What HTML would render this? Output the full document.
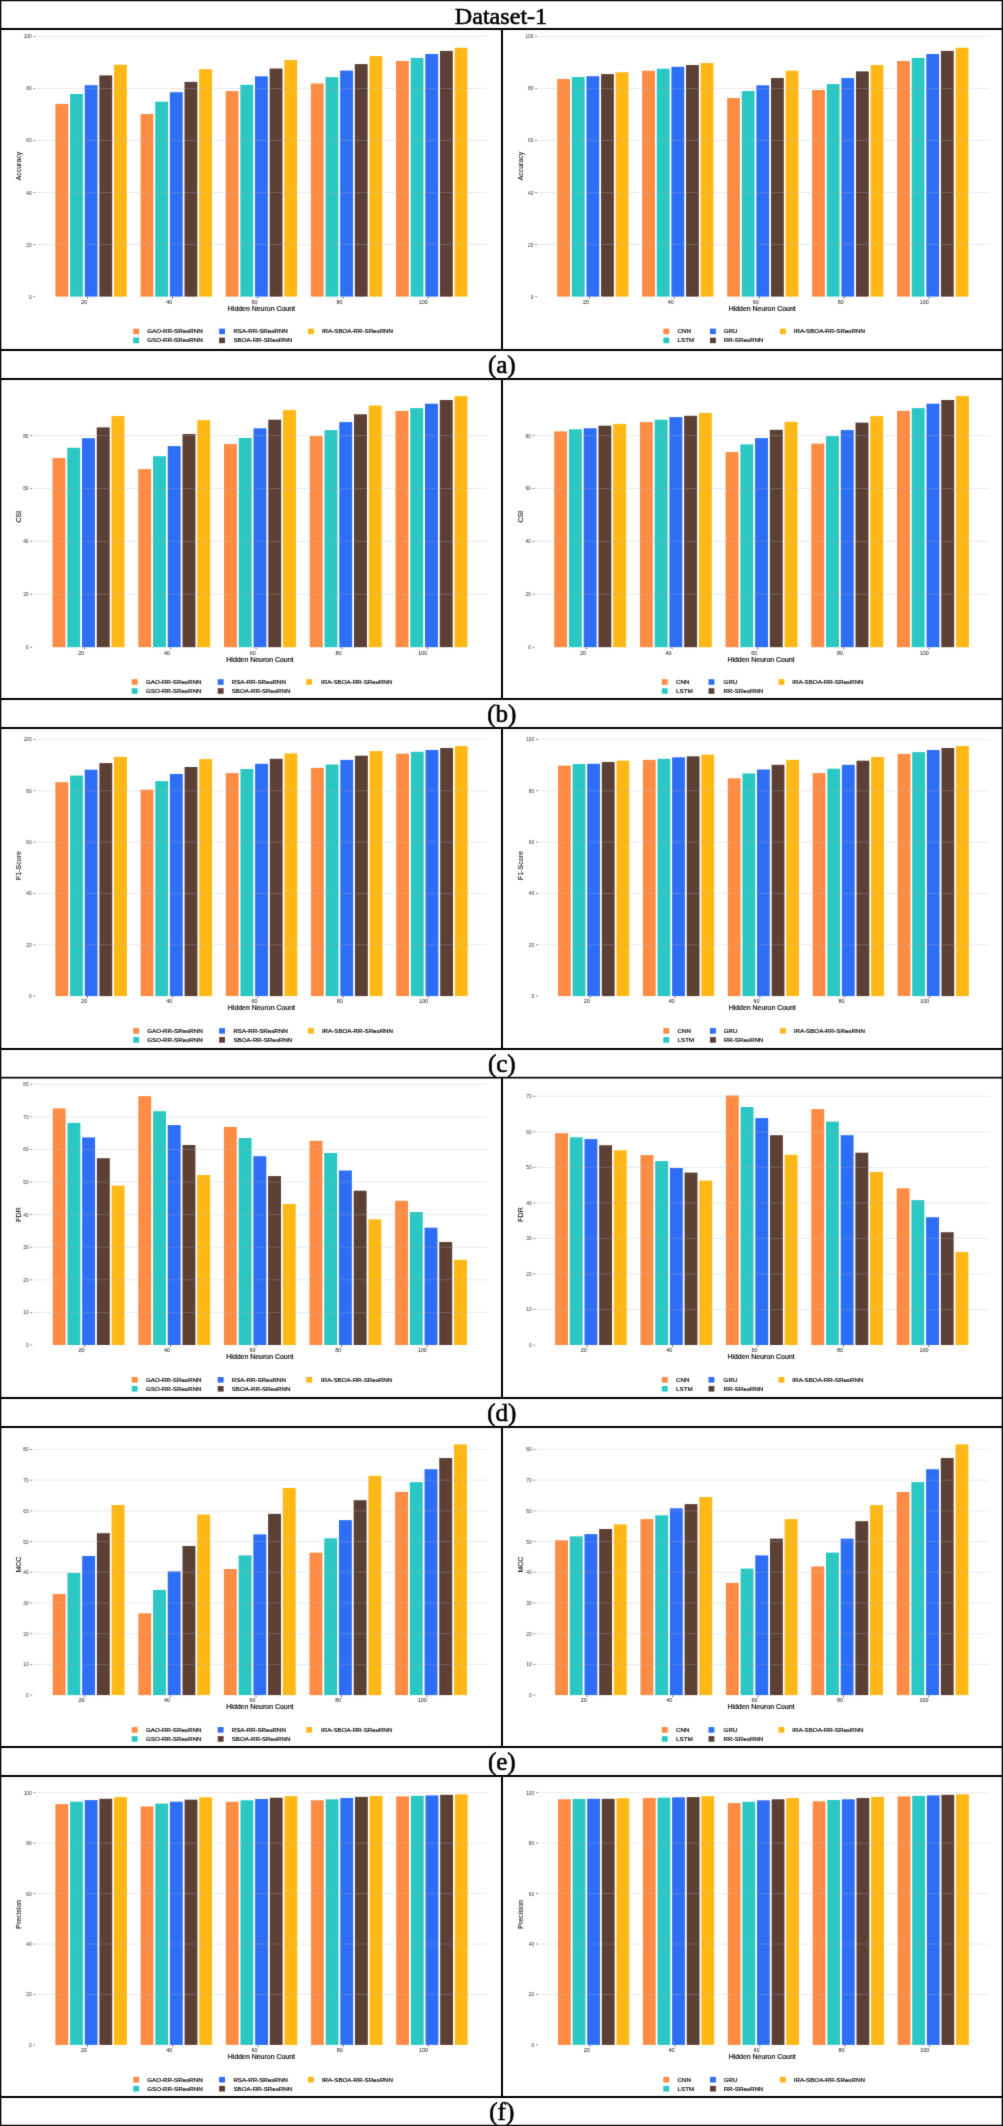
<!DOCTYPE html><html><head><meta charset="utf-8"><title>Dataset-1</title><style>

*{margin:0;padding:0}
html,body{width:1003px;height:2126px;background:#fff;overflow:hidden}
svg{display:block;will-change:transform}
text{font-family:"Liberation Sans",sans-serif;fill:#111;stroke:#111;stroke-width:0.22px}
.yt{font-size:4.8px;text-anchor:end;fill:#333;stroke:none}
.xt{font-size:5.4px;text-anchor:end;stroke:none}
.xl{font-size:6.95px;text-anchor:middle}
.yl{font-size:7px;text-anchor:middle;stroke-width:0.1px}
.lg{font-size:6.2px}
.cap,.ttl{font-family:"Liberation Serif",serif;fill:#000;stroke:#000;stroke-width:0.6px;text-anchor:middle}
.cap{font-size:25px}
.ttl{font-size:24.1px}

</style></head><body>
<svg width="1003" height="2126" viewBox="0 0 1003 2126">
<defs><filter id="bl" x="0" y="0" width="1" height="1"><feConvolveMatrix order="3" kernelMatrix="1 2 1 2 24 2 1 2 1" divisor="36" edgeMode="duplicate"/></filter></defs>
<rect width="1003" height="2126" fill="#fff"/>
<g filter="url(#bl)">
<rect x="55.4" y="103.9" width="12.85" height="192.7" fill="#FF8C44"/>
<rect x="70.05" y="94" width="12.85" height="202.6" fill="#29C7C3"/>
<rect x="84.7" y="85.2" width="12.85" height="211.4" fill="#2D6EF5"/>
<rect x="99.35" y="75.4" width="12.85" height="221.2" fill="#5C4035"/>
<rect x="114" y="64.8" width="12.85" height="231.8" fill="#FFB812"/>
<rect x="140.55" y="114" width="12.85" height="182.6" fill="#FF8C44"/>
<rect x="155.2" y="101.7" width="12.85" height="194.9" fill="#29C7C3"/>
<rect x="169.85" y="92.2" width="12.85" height="204.4" fill="#2D6EF5"/>
<rect x="184.5" y="81.9" width="12.85" height="214.7" fill="#5C4035"/>
<rect x="199.15" y="69.2" width="12.85" height="227.4" fill="#FFB812"/>
<rect x="225.7" y="91.1" width="12.85" height="205.5" fill="#FF8C44"/>
<rect x="240.35" y="84.8" width="12.85" height="211.8" fill="#29C7C3"/>
<rect x="255" y="76.3" width="12.85" height="220.3" fill="#2D6EF5"/>
<rect x="269.65" y="68.5" width="12.85" height="228.1" fill="#5C4035"/>
<rect x="284.3" y="60" width="12.85" height="236.6" fill="#FFB812"/>
<rect x="310.85" y="83.5" width="12.85" height="213.1" fill="#FF8C44"/>
<rect x="325.5" y="77.1" width="12.85" height="219.5" fill="#29C7C3"/>
<rect x="340.15" y="70.6" width="12.85" height="226" fill="#2D6EF5"/>
<rect x="354.8" y="64.1" width="12.85" height="232.5" fill="#5C4035"/>
<rect x="369.45" y="56.1" width="12.85" height="240.5" fill="#FFB812"/>
<rect x="396" y="61" width="12.85" height="235.6" fill="#FF8C44"/>
<rect x="410.65" y="57.9" width="12.85" height="238.7" fill="#29C7C3"/>
<rect x="425.3" y="54" width="12.85" height="242.6" fill="#2D6EF5"/>
<rect x="439.95" y="50.9" width="12.85" height="245.7" fill="#5C4035"/>
<rect x="454.6" y="47.8" width="12.85" height="248.8" fill="#FFB812"/>
<rect x="33.6" y="296.15" width="1.6" height="0.9" fill="#666"/>
<text x="31.7" y="298.6" class="yt">0</text>
<rect x="35.4" y="244.06" width="451.8" height="1" fill="rgba(180,180,180,0.28)"/>
<rect x="33.6" y="244.11" width="1.6" height="0.9" fill="#666"/>
<text x="31.7" y="246.56" class="yt">20</text>
<rect x="35.4" y="192.02" width="451.8" height="1" fill="rgba(180,180,180,0.28)"/>
<rect x="33.6" y="192.07" width="1.6" height="0.9" fill="#666"/>
<text x="31.7" y="194.52" class="yt">40</text>
<rect x="35.4" y="139.98" width="451.8" height="1" fill="rgba(180,180,180,0.28)"/>
<rect x="33.6" y="140.03" width="1.6" height="0.9" fill="#666"/>
<text x="31.7" y="142.48" class="yt">60</text>
<rect x="35.4" y="87.94" width="451.8" height="1" fill="rgba(180,180,180,0.28)"/>
<rect x="33.6" y="87.99" width="1.6" height="0.9" fill="#666"/>
<text x="31.7" y="90.44" class="yt">80</text>
<rect x="35.4" y="35.9" width="451.8" height="1" fill="rgba(180,180,180,0.28)"/>
<rect x="33.6" y="35.95" width="1.6" height="0.9" fill="#666"/>
<text x="31.7" y="38.4" class="yt">100</text>
<rect x="87.05" y="296.8" width="0.9" height="1.8" fill="#555"/>
<text x="87.1" y="303.9" class="xt">20</text>
<rect x="172.2" y="296.8" width="0.9" height="1.8" fill="#555"/>
<text x="172.25" y="303.9" class="xt">40</text>
<rect x="257.35" y="296.8" width="0.9" height="1.8" fill="#555"/>
<text x="257.4" y="303.9" class="xt">60</text>
<rect x="342.5" y="296.8" width="0.9" height="1.8" fill="#555"/>
<text x="342.55" y="303.9" class="xt">80</text>
<rect x="427.65" y="296.8" width="0.9" height="1.8" fill="#555"/>
<text x="427.7" y="303.9" class="xt">100</text>
<text x="261.4" y="310.9" class="xl">Hidden Neuron Count</text>
<text transform="translate(20.6 166.1) rotate(-90)" class="yl">Accuracy</text>
<rect x="133.2" y="328.6" width="5.9" height="5.6" fill="#FF8C44"/>
<text x="147.3" y="333.2" class="lg">GAO-RR-SResRNN</text>
<rect x="133.2" y="337.6" width="5.9" height="5.6" fill="#29C7C3"/>
<text x="147.3" y="342.2" class="lg">GSO-RR-SResRNN</text>
<rect x="219.1" y="328.6" width="5.9" height="5.6" fill="#2D6EF5"/>
<text x="233.4" y="333.2" class="lg">RSA-RR-SResRNN</text>
<rect x="219.1" y="337.6" width="5.9" height="5.6" fill="#5C4035"/>
<text x="233.4" y="342.2" class="lg">SBOA-RR-SResRNN</text>
<rect x="308" y="328.6" width="5.9" height="5.6" fill="#FFB812"/>
<text x="321.9" y="333.2" class="lg">IRA-SBOA-RR-SResRNN</text>
<rect x="557.2" y="79" width="12.82" height="217.6" fill="#FF8C44"/>
<rect x="571.82" y="77" width="12.82" height="219.6" fill="#29C7C3"/>
<rect x="586.44" y="76.2" width="12.82" height="220.4" fill="#2D6EF5"/>
<rect x="601.06" y="74.1" width="12.82" height="222.5" fill="#5C4035"/>
<rect x="615.68" y="72.3" width="12.82" height="224.3" fill="#FFB812"/>
<rect x="642.17" y="70.7" width="12.82" height="225.9" fill="#FF8C44"/>
<rect x="656.79" y="68.7" width="12.82" height="227.9" fill="#29C7C3"/>
<rect x="671.41" y="66.8" width="12.82" height="229.8" fill="#2D6EF5"/>
<rect x="686.03" y="65" width="12.82" height="231.6" fill="#5C4035"/>
<rect x="700.65" y="63" width="12.82" height="233.6" fill="#FFB812"/>
<rect x="727.14" y="98" width="12.82" height="198.6" fill="#FF8C44"/>
<rect x="741.76" y="91" width="12.82" height="205.6" fill="#29C7C3"/>
<rect x="756.38" y="85.3" width="12.82" height="211.3" fill="#2D6EF5"/>
<rect x="771" y="78" width="12.82" height="218.6" fill="#5C4035"/>
<rect x="785.62" y="70.7" width="12.82" height="225.9" fill="#FFB812"/>
<rect x="812.11" y="90" width="12.82" height="206.6" fill="#FF8C44"/>
<rect x="826.73" y="84.1" width="12.82" height="212.5" fill="#29C7C3"/>
<rect x="841.35" y="78.1" width="12.82" height="218.5" fill="#2D6EF5"/>
<rect x="855.97" y="71.4" width="12.82" height="225.2" fill="#5C4035"/>
<rect x="870.59" y="65.1" width="12.82" height="231.5" fill="#FFB812"/>
<rect x="897.08" y="61" width="12.82" height="235.6" fill="#FF8C44"/>
<rect x="911.7" y="57.9" width="12.82" height="238.7" fill="#29C7C3"/>
<rect x="926.32" y="54" width="12.82" height="242.6" fill="#2D6EF5"/>
<rect x="940.94" y="50.9" width="12.82" height="245.7" fill="#5C4035"/>
<rect x="955.56" y="47.8" width="12.82" height="248.8" fill="#FFB812"/>
<rect x="535.3" y="296.15" width="1.6" height="0.9" fill="#666"/>
<text x="533.4" y="298.6" class="yt">0</text>
<rect x="537.1" y="244.06" width="452.1" height="1" fill="rgba(180,180,180,0.28)"/>
<rect x="535.3" y="244.11" width="1.6" height="0.9" fill="#666"/>
<text x="533.4" y="246.56" class="yt">20</text>
<rect x="537.1" y="192.02" width="452.1" height="1" fill="rgba(180,180,180,0.28)"/>
<rect x="535.3" y="192.07" width="1.6" height="0.9" fill="#666"/>
<text x="533.4" y="194.52" class="yt">40</text>
<rect x="537.1" y="139.98" width="452.1" height="1" fill="rgba(180,180,180,0.28)"/>
<rect x="535.3" y="140.03" width="1.6" height="0.9" fill="#666"/>
<text x="533.4" y="142.48" class="yt">60</text>
<rect x="537.1" y="87.94" width="452.1" height="1" fill="rgba(180,180,180,0.28)"/>
<rect x="535.3" y="87.99" width="1.6" height="0.9" fill="#666"/>
<text x="533.4" y="90.44" class="yt">80</text>
<rect x="537.1" y="35.9" width="452.1" height="1" fill="rgba(180,180,180,0.28)"/>
<rect x="535.3" y="35.95" width="1.6" height="0.9" fill="#666"/>
<text x="533.4" y="38.4" class="yt">100</text>
<rect x="588.85" y="296.8" width="0.9" height="1.8" fill="#555"/>
<text x="588.9" y="303.9" class="xt">20</text>
<rect x="673.82" y="296.8" width="0.9" height="1.8" fill="#555"/>
<text x="673.87" y="303.9" class="xt">40</text>
<rect x="758.79" y="296.8" width="0.9" height="1.8" fill="#555"/>
<text x="758.84" y="303.9" class="xt">60</text>
<rect x="843.76" y="296.8" width="0.9" height="1.8" fill="#555"/>
<text x="843.81" y="303.9" class="xt">80</text>
<rect x="928.73" y="296.8" width="0.9" height="1.8" fill="#555"/>
<text x="928.78" y="303.9" class="xt">100</text>
<text x="762.2" y="310.9" class="xl">Hidden Neuron Count</text>
<text transform="translate(522.6 166.1) rotate(-90)" class="yl">Accuracy</text>
<rect x="663.3" y="328.6" width="5.9" height="5.6" fill="#FF8C44"/>
<text x="677.6" y="333.2" class="lg">CNN</text>
<rect x="663.3" y="337.6" width="5.9" height="5.6" fill="#29C7C3"/>
<text x="677.6" y="342.2" class="lg">LSTM</text>
<rect x="710" y="328.6" width="5.9" height="5.6" fill="#2D6EF5"/>
<text x="723.8" y="333.2" class="lg">GRU</text>
<rect x="710" y="337.6" width="5.9" height="5.6" fill="#5C4035"/>
<text x="723.8" y="342.2" class="lg">RR-SResRNN</text>
<rect x="780" y="328.6" width="5.9" height="5.6" fill="#FFB812"/>
<text x="793.7" y="333.2" class="lg">IRA-SBOA-RR-SResRNN</text>
<rect x="52.5" y="458.1" width="12.94" height="189.1" fill="#FF8C44"/>
<rect x="67.25" y="447.8" width="12.94" height="199.4" fill="#29C7C3"/>
<rect x="82.01" y="438.2" width="12.94" height="209" fill="#2D6EF5"/>
<rect x="96.76" y="427.4" width="12.94" height="219.8" fill="#5C4035"/>
<rect x="111.51" y="416" width="12.94" height="231.2" fill="#FFB812"/>
<rect x="138.25" y="469.1" width="12.94" height="178.1" fill="#FF8C44"/>
<rect x="153" y="456.2" width="12.94" height="191" fill="#29C7C3"/>
<rect x="167.76" y="446.1" width="12.94" height="201.1" fill="#2D6EF5"/>
<rect x="182.51" y="434" width="12.94" height="213.2" fill="#5C4035"/>
<rect x="197.26" y="420.2" width="12.94" height="227" fill="#FFB812"/>
<rect x="224" y="444.1" width="12.94" height="203.1" fill="#FF8C44"/>
<rect x="238.75" y="437.9" width="12.94" height="209.3" fill="#29C7C3"/>
<rect x="253.51" y="428.3" width="12.94" height="218.9" fill="#2D6EF5"/>
<rect x="268.26" y="419.7" width="12.94" height="227.5" fill="#5C4035"/>
<rect x="283.01" y="410.1" width="12.94" height="237.1" fill="#FFB812"/>
<rect x="309.75" y="436.1" width="12.94" height="211.1" fill="#FF8C44"/>
<rect x="324.5" y="430.1" width="12.94" height="217.1" fill="#29C7C3"/>
<rect x="339.26" y="422.1" width="12.94" height="225.1" fill="#2D6EF5"/>
<rect x="354.01" y="414.3" width="12.94" height="232.9" fill="#5C4035"/>
<rect x="368.76" y="405.5" width="12.94" height="241.7" fill="#FFB812"/>
<rect x="395.5" y="410.9" width="12.94" height="236.3" fill="#FF8C44"/>
<rect x="410.25" y="408.1" width="12.94" height="239.1" fill="#29C7C3"/>
<rect x="425.01" y="403.7" width="12.94" height="243.5" fill="#2D6EF5"/>
<rect x="439.76" y="400" width="12.94" height="247.2" fill="#5C4035"/>
<rect x="454.51" y="396.1" width="12.94" height="251.1" fill="#FFB812"/>
<rect x="30.4" y="646.75" width="1.6" height="0.9" fill="#666"/>
<text x="28.5" y="649.2" class="yt">0</text>
<rect x="32.2" y="593.78" width="455.1" height="1" fill="rgba(180,180,180,0.28)"/>
<rect x="30.4" y="593.83" width="1.6" height="0.9" fill="#666"/>
<text x="28.5" y="596.28" class="yt">20</text>
<rect x="32.2" y="540.86" width="455.1" height="1" fill="rgba(180,180,180,0.28)"/>
<rect x="30.4" y="540.91" width="1.6" height="0.9" fill="#666"/>
<text x="28.5" y="543.36" class="yt">40</text>
<rect x="32.2" y="487.94" width="455.1" height="1" fill="rgba(180,180,180,0.28)"/>
<rect x="30.4" y="487.99" width="1.6" height="0.9" fill="#666"/>
<text x="28.5" y="490.44" class="yt">60</text>
<rect x="32.2" y="435.02" width="455.1" height="1" fill="rgba(180,180,180,0.28)"/>
<rect x="30.4" y="435.07" width="1.6" height="0.9" fill="#666"/>
<text x="28.5" y="437.52" class="yt">80</text>
<rect x="84.15" y="647.4" width="0.9" height="1.8" fill="#555"/>
<text x="84.2" y="654.5" class="xt">20</text>
<rect x="169.9" y="647.4" width="0.9" height="1.8" fill="#555"/>
<text x="169.95" y="654.5" class="xt">40</text>
<rect x="255.65" y="647.4" width="0.9" height="1.8" fill="#555"/>
<text x="255.7" y="654.5" class="xt">60</text>
<rect x="341.4" y="647.4" width="0.9" height="1.8" fill="#555"/>
<text x="341.45" y="654.5" class="xt">80</text>
<rect x="427.15" y="647.4" width="0.9" height="1.8" fill="#555"/>
<text x="427.2" y="654.5" class="xt">100</text>
<text x="259.9" y="661.5" class="xl">Hidden Neuron Count</text>
<text transform="translate(20.6 516.7) rotate(-90)" class="yl">CSI</text>
<rect x="131.7" y="679.2" width="5.9" height="5.6" fill="#FF8C44"/>
<text x="146" y="683.8" class="lg">GAO-RR-SResRNN</text>
<rect x="131.7" y="688.2" width="5.9" height="5.6" fill="#29C7C3"/>
<text x="146" y="692.8" class="lg">GSO-RR-SResRNN</text>
<rect x="217.7" y="679.2" width="5.9" height="5.6" fill="#2D6EF5"/>
<text x="231.7" y="683.8" class="lg">RSA-RR-SResRNN</text>
<rect x="217.7" y="688.2" width="5.9" height="5.6" fill="#5C4035"/>
<text x="231.7" y="692.8" class="lg">SBOA-RR-SResRNN</text>
<rect x="306.2" y="679.2" width="5.9" height="5.6" fill="#FFB812"/>
<text x="321" y="683.8" class="lg">IRA-SBOA-RR-SResRNN</text>
<rect x="554.2" y="431.4" width="12.93" height="215.8" fill="#FF8C44"/>
<rect x="568.94" y="429.3" width="12.93" height="217.9" fill="#29C7C3"/>
<rect x="583.69" y="428.3" width="12.93" height="218.9" fill="#2D6EF5"/>
<rect x="598.43" y="425.7" width="12.93" height="221.5" fill="#5C4035"/>
<rect x="613.18" y="423.9" width="12.93" height="223.3" fill="#FFB812"/>
<rect x="639.9" y="422.1" width="12.93" height="225.1" fill="#FF8C44"/>
<rect x="654.64" y="419.7" width="12.93" height="227.5" fill="#29C7C3"/>
<rect x="669.39" y="417.1" width="12.93" height="230.1" fill="#2D6EF5"/>
<rect x="684.13" y="415.8" width="12.93" height="231.4" fill="#5C4035"/>
<rect x="698.88" y="413" width="12.93" height="234.2" fill="#FFB812"/>
<rect x="725.6" y="452.1" width="12.93" height="195.1" fill="#FF8C44"/>
<rect x="740.34" y="444.4" width="12.93" height="202.8" fill="#29C7C3"/>
<rect x="755.09" y="438.1" width="12.93" height="209.1" fill="#2D6EF5"/>
<rect x="769.83" y="429.8" width="12.93" height="217.4" fill="#5C4035"/>
<rect x="784.58" y="421.8" width="12.93" height="225.4" fill="#FFB812"/>
<rect x="811.3" y="443.6" width="12.93" height="203.6" fill="#FF8C44"/>
<rect x="826.04" y="436.1" width="12.93" height="211.1" fill="#29C7C3"/>
<rect x="840.79" y="430.1" width="12.93" height="217.1" fill="#2D6EF5"/>
<rect x="855.53" y="422.6" width="12.93" height="224.6" fill="#5C4035"/>
<rect x="870.28" y="416.1" width="12.93" height="231.1" fill="#FFB812"/>
<rect x="897" y="410.9" width="12.93" height="236.3" fill="#FF8C44"/>
<rect x="911.74" y="408.1" width="12.93" height="239.1" fill="#29C7C3"/>
<rect x="926.49" y="403.7" width="12.93" height="243.5" fill="#2D6EF5"/>
<rect x="941.23" y="400" width="12.93" height="247.2" fill="#5C4035"/>
<rect x="955.98" y="396.1" width="12.93" height="251.1" fill="#FFB812"/>
<rect x="532.7" y="646.75" width="1.6" height="0.9" fill="#666"/>
<text x="530.8" y="649.2" class="yt">0</text>
<rect x="534.5" y="593.78" width="454.8" height="1" fill="rgba(180,180,180,0.28)"/>
<rect x="532.7" y="593.83" width="1.6" height="0.9" fill="#666"/>
<text x="530.8" y="596.28" class="yt">20</text>
<rect x="534.5" y="540.86" width="454.8" height="1" fill="rgba(180,180,180,0.28)"/>
<rect x="532.7" y="540.91" width="1.6" height="0.9" fill="#666"/>
<text x="530.8" y="543.36" class="yt">40</text>
<rect x="534.5" y="487.94" width="454.8" height="1" fill="rgba(180,180,180,0.28)"/>
<rect x="532.7" y="487.99" width="1.6" height="0.9" fill="#666"/>
<text x="530.8" y="490.44" class="yt">60</text>
<rect x="534.5" y="435.02" width="454.8" height="1" fill="rgba(180,180,180,0.28)"/>
<rect x="532.7" y="435.07" width="1.6" height="0.9" fill="#666"/>
<text x="530.8" y="437.52" class="yt">80</text>
<rect x="585.85" y="647.4" width="0.9" height="1.8" fill="#555"/>
<text x="585.9" y="654.5" class="xt">20</text>
<rect x="671.55" y="647.4" width="0.9" height="1.8" fill="#555"/>
<text x="671.6" y="654.5" class="xt">40</text>
<rect x="757.25" y="647.4" width="0.9" height="1.8" fill="#555"/>
<text x="757.3" y="654.5" class="xt">60</text>
<rect x="842.95" y="647.4" width="0.9" height="1.8" fill="#555"/>
<text x="843" y="654.5" class="xt">80</text>
<rect x="928.65" y="647.4" width="0.9" height="1.8" fill="#555"/>
<text x="928.7" y="654.5" class="xt">100</text>
<text x="761" y="661.5" class="xl">Hidden Neuron Count</text>
<text transform="translate(522.6 516.7) rotate(-90)" class="yl">CSI</text>
<rect x="661.8" y="679.2" width="5.9" height="5.6" fill="#FF8C44"/>
<text x="676.1" y="683.8" class="lg">CNN</text>
<rect x="661.8" y="688.2" width="5.9" height="5.6" fill="#29C7C3"/>
<text x="676.1" y="692.8" class="lg">LSTM</text>
<rect x="708.5" y="679.2" width="5.9" height="5.6" fill="#2D6EF5"/>
<text x="723.6" y="683.8" class="lg">GRU</text>
<rect x="708.5" y="688.2" width="5.9" height="5.6" fill="#5C4035"/>
<text x="723.6" y="692.8" class="lg">RR-SResRNN</text>
<rect x="778.5" y="679.2" width="5.9" height="5.6" fill="#FFB812"/>
<text x="792.2" y="683.8" class="lg">IRA-SBOA-RR-SResRNN</text>
<rect x="55.4" y="782.2" width="12.86" height="213.9" fill="#FF8C44"/>
<rect x="70.06" y="775.6" width="12.86" height="220.5" fill="#29C7C3"/>
<rect x="84.72" y="769.7" width="12.86" height="226.4" fill="#2D6EF5"/>
<rect x="99.38" y="763.1" width="12.86" height="233" fill="#5C4035"/>
<rect x="114.03" y="756.9" width="12.86" height="239.2" fill="#FFB812"/>
<rect x="140.6" y="789.6" width="12.86" height="206.5" fill="#FF8C44"/>
<rect x="155.26" y="781.1" width="12.86" height="215" fill="#29C7C3"/>
<rect x="169.92" y="774" width="12.86" height="222.1" fill="#2D6EF5"/>
<rect x="184.58" y="767" width="12.86" height="229.1" fill="#5C4035"/>
<rect x="199.23" y="759.1" width="12.86" height="237" fill="#FFB812"/>
<rect x="225.8" y="773.1" width="12.86" height="223" fill="#FF8C44"/>
<rect x="240.46" y="769" width="12.86" height="227.1" fill="#29C7C3"/>
<rect x="255.12" y="763.8" width="12.86" height="232.3" fill="#2D6EF5"/>
<rect x="269.78" y="758.8" width="12.86" height="237.3" fill="#5C4035"/>
<rect x="284.43" y="753.4" width="12.86" height="242.7" fill="#FFB812"/>
<rect x="311" y="767.9" width="12.86" height="228.2" fill="#FF8C44"/>
<rect x="325.66" y="764.5" width="12.86" height="231.6" fill="#29C7C3"/>
<rect x="340.32" y="759.9" width="12.86" height="236.2" fill="#2D6EF5"/>
<rect x="354.98" y="755.7" width="12.86" height="240.4" fill="#5C4035"/>
<rect x="369.63" y="751.1" width="12.86" height="245" fill="#FFB812"/>
<rect x="396.2" y="753.7" width="12.86" height="242.4" fill="#FF8C44"/>
<rect x="410.86" y="751.8" width="12.86" height="244.3" fill="#29C7C3"/>
<rect x="425.52" y="750" width="12.86" height="246.1" fill="#2D6EF5"/>
<rect x="440.18" y="748" width="12.86" height="248.1" fill="#5C4035"/>
<rect x="454.83" y="746.1" width="12.86" height="250" fill="#FFB812"/>
<rect x="33.6" y="995.65" width="1.6" height="0.9" fill="#666"/>
<text x="31.7" y="998.1" class="yt">0</text>
<rect x="35.4" y="944.26" width="451.8" height="1" fill="rgba(180,180,180,0.28)"/>
<rect x="33.6" y="944.31" width="1.6" height="0.9" fill="#666"/>
<text x="31.7" y="946.76" class="yt">20</text>
<rect x="35.4" y="892.92" width="451.8" height="1" fill="rgba(180,180,180,0.28)"/>
<rect x="33.6" y="892.97" width="1.6" height="0.9" fill="#666"/>
<text x="31.7" y="895.42" class="yt">40</text>
<rect x="35.4" y="841.58" width="451.8" height="1" fill="rgba(180,180,180,0.28)"/>
<rect x="33.6" y="841.63" width="1.6" height="0.9" fill="#666"/>
<text x="31.7" y="844.08" class="yt">60</text>
<rect x="35.4" y="790.24" width="451.8" height="1" fill="rgba(180,180,180,0.28)"/>
<rect x="33.6" y="790.29" width="1.6" height="0.9" fill="#666"/>
<text x="31.7" y="792.74" class="yt">80</text>
<rect x="35.4" y="738.9" width="451.8" height="1" fill="rgba(180,180,180,0.28)"/>
<rect x="33.6" y="738.95" width="1.6" height="0.9" fill="#666"/>
<text x="31.7" y="741.4" class="yt">100</text>
<rect x="87.05" y="996.3" width="0.9" height="1.8" fill="#555"/>
<text x="87.1" y="1003.4" class="xt">20</text>
<rect x="172.25" y="996.3" width="0.9" height="1.8" fill="#555"/>
<text x="172.3" y="1003.4" class="xt">40</text>
<rect x="257.45" y="996.3" width="0.9" height="1.8" fill="#555"/>
<text x="257.5" y="1003.4" class="xt">60</text>
<rect x="342.65" y="996.3" width="0.9" height="1.8" fill="#555"/>
<text x="342.7" y="1003.4" class="xt">80</text>
<rect x="427.85" y="996.3" width="0.9" height="1.8" fill="#555"/>
<text x="427.9" y="1003.4" class="xt">100</text>
<text x="261.4" y="1010.4" class="xl">Hidden Neuron Count</text>
<text transform="translate(20.6 865.6) rotate(-90)" class="yl">F1-Score</text>
<rect x="133.2" y="1028.1" width="5.9" height="5.6" fill="#FF8C44"/>
<text x="147.3" y="1032.7" class="lg">GAO-RR-SResRNN</text>
<rect x="133.2" y="1037.1" width="5.9" height="5.6" fill="#29C7C3"/>
<text x="147.3" y="1041.7" class="lg">GSO-RR-SResRNN</text>
<rect x="219.1" y="1028.1" width="5.9" height="5.6" fill="#2D6EF5"/>
<text x="233.4" y="1032.7" class="lg">RSA-RR-SResRNN</text>
<rect x="219.1" y="1037.1" width="5.9" height="5.6" fill="#5C4035"/>
<text x="233.4" y="1041.7" class="lg">SBOA-RR-SResRNN</text>
<rect x="308" y="1028.1" width="5.9" height="5.6" fill="#FFB812"/>
<text x="321.9" y="1032.7" class="lg">IRA-SBOA-RR-SResRNN</text>
<rect x="558" y="765.6" width="12.81" height="230.5" fill="#FF8C44"/>
<rect x="572.61" y="764" width="12.81" height="232.1" fill="#29C7C3"/>
<rect x="587.21" y="763.8" width="12.81" height="232.3" fill="#2D6EF5"/>
<rect x="601.82" y="762" width="12.81" height="234.1" fill="#5C4035"/>
<rect x="616.43" y="760.7" width="12.81" height="235.4" fill="#FFB812"/>
<rect x="642.9" y="759.9" width="12.81" height="236.2" fill="#FF8C44"/>
<rect x="657.51" y="758.8" width="12.81" height="237.3" fill="#29C7C3"/>
<rect x="672.11" y="757.3" width="12.81" height="238.8" fill="#2D6EF5"/>
<rect x="686.72" y="756.3" width="12.81" height="239.8" fill="#5C4035"/>
<rect x="701.33" y="754.7" width="12.81" height="241.4" fill="#FFB812"/>
<rect x="727.8" y="778.3" width="12.81" height="217.8" fill="#FF8C44"/>
<rect x="742.41" y="773.4" width="12.81" height="222.7" fill="#29C7C3"/>
<rect x="757.01" y="769.5" width="12.81" height="226.6" fill="#2D6EF5"/>
<rect x="771.62" y="764.8" width="12.81" height="231.3" fill="#5C4035"/>
<rect x="786.23" y="759.9" width="12.81" height="236.2" fill="#FFB812"/>
<rect x="812.7" y="773.1" width="12.81" height="223" fill="#FF8C44"/>
<rect x="827.31" y="768.7" width="12.81" height="227.4" fill="#29C7C3"/>
<rect x="841.91" y="764.8" width="12.81" height="231.3" fill="#2D6EF5"/>
<rect x="856.52" y="760.7" width="12.81" height="235.4" fill="#5C4035"/>
<rect x="871.13" y="757" width="12.81" height="239.1" fill="#FFB812"/>
<rect x="897.6" y="753.9" width="12.81" height="242.2" fill="#FF8C44"/>
<rect x="912.21" y="752.1" width="12.81" height="244" fill="#29C7C3"/>
<rect x="926.81" y="750" width="12.81" height="246.1" fill="#2D6EF5"/>
<rect x="941.42" y="748" width="12.81" height="248.1" fill="#5C4035"/>
<rect x="956.03" y="746.1" width="12.81" height="250" fill="#FFB812"/>
<rect x="536.1" y="995.65" width="1.6" height="0.9" fill="#666"/>
<text x="534.2" y="998.1" class="yt">0</text>
<rect x="537.9" y="944.26" width="451.3" height="1" fill="rgba(180,180,180,0.28)"/>
<rect x="536.1" y="944.31" width="1.6" height="0.9" fill="#666"/>
<text x="534.2" y="946.76" class="yt">20</text>
<rect x="537.9" y="892.92" width="451.3" height="1" fill="rgba(180,180,180,0.28)"/>
<rect x="536.1" y="892.97" width="1.6" height="0.9" fill="#666"/>
<text x="534.2" y="895.42" class="yt">40</text>
<rect x="537.9" y="841.58" width="451.3" height="1" fill="rgba(180,180,180,0.28)"/>
<rect x="536.1" y="841.63" width="1.6" height="0.9" fill="#666"/>
<text x="534.2" y="844.08" class="yt">60</text>
<rect x="537.9" y="790.24" width="451.3" height="1" fill="rgba(180,180,180,0.28)"/>
<rect x="536.1" y="790.29" width="1.6" height="0.9" fill="#666"/>
<text x="534.2" y="792.74" class="yt">80</text>
<rect x="537.9" y="738.9" width="451.3" height="1" fill="rgba(180,180,180,0.28)"/>
<rect x="536.1" y="738.95" width="1.6" height="0.9" fill="#666"/>
<text x="534.2" y="741.4" class="yt">100</text>
<rect x="589.65" y="996.3" width="0.9" height="1.8" fill="#555"/>
<text x="589.7" y="1003.4" class="xt">20</text>
<rect x="674.55" y="996.3" width="0.9" height="1.8" fill="#555"/>
<text x="674.6" y="1003.4" class="xt">40</text>
<rect x="759.45" y="996.3" width="0.9" height="1.8" fill="#555"/>
<text x="759.5" y="1003.4" class="xt">60</text>
<rect x="844.35" y="996.3" width="0.9" height="1.8" fill="#555"/>
<text x="844.4" y="1003.4" class="xt">80</text>
<rect x="929.25" y="996.3" width="0.9" height="1.8" fill="#555"/>
<text x="929.3" y="1003.4" class="xt">100</text>
<text x="762.2" y="1010.4" class="xl">Hidden Neuron Count</text>
<text transform="translate(522.6 865.6) rotate(-90)" class="yl">F1-Score</text>
<rect x="663.3" y="1028.1" width="5.9" height="5.6" fill="#FF8C44"/>
<text x="677.6" y="1032.7" class="lg">CNN</text>
<rect x="663.3" y="1037.1" width="5.9" height="5.6" fill="#29C7C3"/>
<text x="677.6" y="1041.7" class="lg">LSTM</text>
<rect x="710" y="1028.1" width="5.9" height="5.6" fill="#2D6EF5"/>
<text x="723.8" y="1032.7" class="lg">GRU</text>
<rect x="710" y="1037.1" width="5.9" height="5.6" fill="#5C4035"/>
<text x="723.8" y="1041.7" class="lg">RR-SResRNN</text>
<rect x="780" y="1028.1" width="5.9" height="5.6" fill="#FFB812"/>
<text x="793.7" y="1032.7" class="lg">IRA-SBOA-RR-SResRNN</text>
<rect x="52.7" y="1108.4" width="12.92" height="236.6" fill="#FF8C44"/>
<rect x="67.43" y="1122.9" width="12.92" height="222.1" fill="#29C7C3"/>
<rect x="82.15" y="1137.4" width="12.92" height="207.6" fill="#2D6EF5"/>
<rect x="96.88" y="1158.2" width="12.92" height="186.8" fill="#5C4035"/>
<rect x="111.61" y="1185.6" width="12.92" height="159.4" fill="#FFB812"/>
<rect x="138.3" y="1096.2" width="12.92" height="248.8" fill="#FF8C44"/>
<rect x="153.03" y="1111.2" width="12.92" height="233.8" fill="#29C7C3"/>
<rect x="167.75" y="1125.1" width="12.92" height="219.9" fill="#2D6EF5"/>
<rect x="182.48" y="1145" width="12.92" height="200" fill="#5C4035"/>
<rect x="197.21" y="1175" width="12.92" height="170" fill="#FFB812"/>
<rect x="223.9" y="1126.9" width="12.92" height="218.1" fill="#FF8C44"/>
<rect x="238.63" y="1138" width="12.92" height="207" fill="#29C7C3"/>
<rect x="253.35" y="1156.2" width="12.92" height="188.8" fill="#2D6EF5"/>
<rect x="268.08" y="1176.1" width="12.92" height="168.9" fill="#5C4035"/>
<rect x="282.81" y="1204" width="12.92" height="141" fill="#FFB812"/>
<rect x="309.5" y="1140.8" width="12.92" height="204.2" fill="#FF8C44"/>
<rect x="324.23" y="1153" width="12.92" height="192" fill="#29C7C3"/>
<rect x="338.95" y="1170.5" width="12.92" height="174.5" fill="#2D6EF5"/>
<rect x="353.68" y="1190.7" width="12.92" height="154.3" fill="#5C4035"/>
<rect x="368.41" y="1219.3" width="12.92" height="125.7" fill="#FFB812"/>
<rect x="395.1" y="1200.8" width="12.92" height="144.2" fill="#FF8C44"/>
<rect x="409.83" y="1212" width="12.92" height="133" fill="#29C7C3"/>
<rect x="424.55" y="1227.7" width="12.92" height="117.3" fill="#2D6EF5"/>
<rect x="439.28" y="1242" width="12.92" height="103" fill="#5C4035"/>
<rect x="454.01" y="1259.8" width="12.92" height="85.2" fill="#FFB812"/>
<rect x="30.6" y="1344.55" width="1.6" height="0.9" fill="#666"/>
<text x="28.7" y="1347" class="yt">0</text>
<rect x="32.4" y="1311.91" width="454.9" height="1" fill="rgba(180,180,180,0.28)"/>
<rect x="30.6" y="1311.96" width="1.6" height="0.9" fill="#666"/>
<text x="28.7" y="1314.41" class="yt">10</text>
<rect x="32.4" y="1279.32" width="454.9" height="1" fill="rgba(180,180,180,0.28)"/>
<rect x="30.6" y="1279.37" width="1.6" height="0.9" fill="#666"/>
<text x="28.7" y="1281.82" class="yt">20</text>
<rect x="32.4" y="1246.73" width="454.9" height="1" fill="rgba(180,180,180,0.28)"/>
<rect x="30.6" y="1246.78" width="1.6" height="0.9" fill="#666"/>
<text x="28.7" y="1249.23" class="yt">30</text>
<rect x="32.4" y="1214.14" width="454.9" height="1" fill="rgba(180,180,180,0.28)"/>
<rect x="30.6" y="1214.19" width="1.6" height="0.9" fill="#666"/>
<text x="28.7" y="1216.64" class="yt">40</text>
<rect x="32.4" y="1181.55" width="454.9" height="1" fill="rgba(180,180,180,0.28)"/>
<rect x="30.6" y="1181.6" width="1.6" height="0.9" fill="#666"/>
<text x="28.7" y="1184.05" class="yt">50</text>
<rect x="32.4" y="1148.96" width="454.9" height="1" fill="rgba(180,180,180,0.28)"/>
<rect x="30.6" y="1149.01" width="1.6" height="0.9" fill="#666"/>
<text x="28.7" y="1151.46" class="yt">60</text>
<rect x="32.4" y="1116.37" width="454.9" height="1" fill="rgba(180,180,180,0.28)"/>
<rect x="30.6" y="1116.42" width="1.6" height="0.9" fill="#666"/>
<text x="28.7" y="1118.87" class="yt">70</text>
<rect x="32.4" y="1083.78" width="454.9" height="1" fill="rgba(180,180,180,0.28)"/>
<rect x="30.6" y="1083.83" width="1.6" height="0.9" fill="#666"/>
<text x="28.7" y="1086.28" class="yt">80</text>
<rect x="84.35" y="1345.2" width="0.9" height="1.8" fill="#555"/>
<text x="84.4" y="1352.3" class="xt">20</text>
<rect x="169.95" y="1345.2" width="0.9" height="1.8" fill="#555"/>
<text x="170" y="1352.3" class="xt">40</text>
<rect x="255.55" y="1345.2" width="0.9" height="1.8" fill="#555"/>
<text x="255.6" y="1352.3" class="xt">60</text>
<rect x="341.15" y="1345.2" width="0.9" height="1.8" fill="#555"/>
<text x="341.2" y="1352.3" class="xt">80</text>
<rect x="426.75" y="1345.2" width="0.9" height="1.8" fill="#555"/>
<text x="426.8" y="1352.3" class="xt">100</text>
<text x="259.9" y="1359.3" class="xl">Hidden Neuron Count</text>
<text transform="translate(20.6 1214.5) rotate(-90)" class="yl">FDR</text>
<rect x="131.7" y="1377" width="5.9" height="5.6" fill="#FF8C44"/>
<text x="146" y="1381.6" class="lg">GAO-RR-SResRNN</text>
<rect x="131.7" y="1386" width="5.9" height="5.6" fill="#29C7C3"/>
<text x="146" y="1390.6" class="lg">GSO-RR-SResRNN</text>
<rect x="217.7" y="1377" width="5.9" height="5.6" fill="#2D6EF5"/>
<text x="231.7" y="1381.6" class="lg">RSA-RR-SResRNN</text>
<rect x="217.7" y="1386" width="5.9" height="5.6" fill="#5C4035"/>
<text x="231.7" y="1390.6" class="lg">SBOA-RR-SResRNN</text>
<rect x="306.2" y="1377" width="5.9" height="5.6" fill="#FFB812"/>
<text x="321" y="1381.6" class="lg">IRA-SBOA-RR-SResRNN</text>
<rect x="555.1" y="1133.2" width="12.89" height="211.8" fill="#FF8C44"/>
<rect x="569.79" y="1137.3" width="12.89" height="207.7" fill="#29C7C3"/>
<rect x="584.49" y="1139.1" width="12.89" height="205.9" fill="#2D6EF5"/>
<rect x="599.18" y="1145.2" width="12.89" height="199.8" fill="#5C4035"/>
<rect x="613.87" y="1150.2" width="12.89" height="194.8" fill="#FFB812"/>
<rect x="640.5" y="1155.1" width="12.89" height="189.9" fill="#FF8C44"/>
<rect x="655.19" y="1161.1" width="12.89" height="183.9" fill="#29C7C3"/>
<rect x="669.89" y="1168" width="12.89" height="177" fill="#2D6EF5"/>
<rect x="684.58" y="1172.6" width="12.89" height="172.4" fill="#5C4035"/>
<rect x="699.27" y="1180.6" width="12.89" height="164.4" fill="#FFB812"/>
<rect x="725.9" y="1095.5" width="12.89" height="249.5" fill="#FF8C44"/>
<rect x="740.59" y="1107" width="12.89" height="238" fill="#29C7C3"/>
<rect x="755.29" y="1118.1" width="12.89" height="226.9" fill="#2D6EF5"/>
<rect x="769.98" y="1135.2" width="12.89" height="209.8" fill="#5C4035"/>
<rect x="784.67" y="1154.8" width="12.89" height="190.2" fill="#FFB812"/>
<rect x="811.3" y="1109.1" width="12.89" height="235.9" fill="#FF8C44"/>
<rect x="825.99" y="1121.6" width="12.89" height="223.4" fill="#29C7C3"/>
<rect x="840.69" y="1135.2" width="12.89" height="209.8" fill="#2D6EF5"/>
<rect x="855.38" y="1152.7" width="12.89" height="192.3" fill="#5C4035"/>
<rect x="870.07" y="1171.9" width="12.89" height="173.1" fill="#FFB812"/>
<rect x="896.7" y="1188.3" width="12.89" height="156.7" fill="#FF8C44"/>
<rect x="911.39" y="1200.1" width="12.89" height="144.9" fill="#29C7C3"/>
<rect x="926.09" y="1217.2" width="12.89" height="127.8" fill="#2D6EF5"/>
<rect x="940.78" y="1232.2" width="12.89" height="112.8" fill="#5C4035"/>
<rect x="955.47" y="1252.1" width="12.89" height="92.9" fill="#FFB812"/>
<rect x="533.6" y="1344.55" width="1.6" height="0.9" fill="#666"/>
<text x="531.7" y="1347" class="yt">0</text>
<rect x="535.4" y="1308.97" width="453.9" height="1" fill="rgba(180,180,180,0.28)"/>
<rect x="533.6" y="1309.02" width="1.6" height="0.9" fill="#666"/>
<text x="531.7" y="1311.47" class="yt">10</text>
<rect x="535.4" y="1273.44" width="453.9" height="1" fill="rgba(180,180,180,0.28)"/>
<rect x="533.6" y="1273.49" width="1.6" height="0.9" fill="#666"/>
<text x="531.7" y="1275.94" class="yt">20</text>
<rect x="535.4" y="1237.91" width="453.9" height="1" fill="rgba(180,180,180,0.28)"/>
<rect x="533.6" y="1237.96" width="1.6" height="0.9" fill="#666"/>
<text x="531.7" y="1240.41" class="yt">30</text>
<rect x="535.4" y="1202.38" width="453.9" height="1" fill="rgba(180,180,180,0.28)"/>
<rect x="533.6" y="1202.43" width="1.6" height="0.9" fill="#666"/>
<text x="531.7" y="1204.88" class="yt">40</text>
<rect x="535.4" y="1166.85" width="453.9" height="1" fill="rgba(180,180,180,0.28)"/>
<rect x="533.6" y="1166.9" width="1.6" height="0.9" fill="#666"/>
<text x="531.7" y="1169.35" class="yt">50</text>
<rect x="535.4" y="1131.32" width="453.9" height="1" fill="rgba(180,180,180,0.28)"/>
<rect x="533.6" y="1131.37" width="1.6" height="0.9" fill="#666"/>
<text x="531.7" y="1133.82" class="yt">60</text>
<rect x="535.4" y="1095.79" width="453.9" height="1" fill="rgba(180,180,180,0.28)"/>
<rect x="533.6" y="1095.84" width="1.6" height="0.9" fill="#666"/>
<text x="531.7" y="1098.29" class="yt">70</text>
<rect x="586.75" y="1345.2" width="0.9" height="1.8" fill="#555"/>
<text x="586.8" y="1352.3" class="xt">20</text>
<rect x="672.15" y="1345.2" width="0.9" height="1.8" fill="#555"/>
<text x="672.2" y="1352.3" class="xt">40</text>
<rect x="757.55" y="1345.2" width="0.9" height="1.8" fill="#555"/>
<text x="757.6" y="1352.3" class="xt">60</text>
<rect x="842.95" y="1345.2" width="0.9" height="1.8" fill="#555"/>
<text x="843" y="1352.3" class="xt">80</text>
<rect x="928.35" y="1345.2" width="0.9" height="1.8" fill="#555"/>
<text x="928.4" y="1352.3" class="xt">100</text>
<text x="761" y="1359.3" class="xl">Hidden Neuron Count</text>
<text transform="translate(522.6 1214.5) rotate(-90)" class="yl">FDR</text>
<rect x="661.8" y="1377" width="5.9" height="5.6" fill="#FF8C44"/>
<text x="676.1" y="1381.6" class="lg">CNN</text>
<rect x="661.8" y="1386" width="5.9" height="5.6" fill="#29C7C3"/>
<text x="676.1" y="1390.6" class="lg">LSTM</text>
<rect x="708.5" y="1377" width="5.9" height="5.6" fill="#2D6EF5"/>
<text x="723.6" y="1381.6" class="lg">GRU</text>
<rect x="708.5" y="1386" width="5.9" height="5.6" fill="#5C4035"/>
<text x="723.6" y="1390.6" class="lg">RR-SResRNN</text>
<rect x="778.5" y="1377" width="5.9" height="5.6" fill="#FFB812"/>
<text x="792.2" y="1381.6" class="lg">IRA-SBOA-RR-SResRNN</text>
<rect x="52.7" y="1594.1" width="12.92" height="101" fill="#FF8C44"/>
<rect x="67.43" y="1573" width="12.92" height="122.1" fill="#29C7C3"/>
<rect x="82.15" y="1556" width="12.92" height="139.1" fill="#2D6EF5"/>
<rect x="96.88" y="1533.2" width="12.92" height="161.9" fill="#5C4035"/>
<rect x="111.61" y="1505" width="12.92" height="190.1" fill="#FFB812"/>
<rect x="138.3" y="1613.3" width="12.92" height="81.8" fill="#FF8C44"/>
<rect x="153.03" y="1589.9" width="12.92" height="105.2" fill="#29C7C3"/>
<rect x="167.75" y="1571.4" width="12.92" height="123.7" fill="#2D6EF5"/>
<rect x="182.48" y="1546" width="12.92" height="149.1" fill="#5C4035"/>
<rect x="197.21" y="1514.6" width="12.92" height="180.5" fill="#FFB812"/>
<rect x="223.9" y="1569" width="12.92" height="126.1" fill="#FF8C44"/>
<rect x="238.63" y="1555.4" width="12.92" height="139.7" fill="#29C7C3"/>
<rect x="253.35" y="1534.4" width="12.92" height="160.7" fill="#2D6EF5"/>
<rect x="268.08" y="1513.9" width="12.92" height="181.2" fill="#5C4035"/>
<rect x="282.81" y="1488" width="12.92" height="207.1" fill="#FFB812"/>
<rect x="309.5" y="1552.6" width="12.92" height="142.5" fill="#FF8C44"/>
<rect x="324.23" y="1538.3" width="12.92" height="156.8" fill="#29C7C3"/>
<rect x="338.95" y="1520.1" width="12.92" height="175" fill="#2D6EF5"/>
<rect x="353.68" y="1500.2" width="12.92" height="194.9" fill="#5C4035"/>
<rect x="368.41" y="1475.8" width="12.92" height="219.3" fill="#FFB812"/>
<rect x="395.1" y="1491.9" width="12.92" height="203.2" fill="#FF8C44"/>
<rect x="409.83" y="1482.1" width="12.92" height="213" fill="#29C7C3"/>
<rect x="424.55" y="1469.2" width="12.92" height="225.9" fill="#2D6EF5"/>
<rect x="439.28" y="1458" width="12.92" height="237.1" fill="#5C4035"/>
<rect x="454.01" y="1444.4" width="12.92" height="250.7" fill="#FFB812"/>
<rect x="30.6" y="1694.65" width="1.6" height="0.9" fill="#666"/>
<text x="28.7" y="1697.1" class="yt">0</text>
<rect x="32.4" y="1663.89" width="454.9" height="1" fill="rgba(180,180,180,0.28)"/>
<rect x="30.6" y="1663.94" width="1.6" height="0.9" fill="#666"/>
<text x="28.7" y="1666.39" class="yt">10</text>
<rect x="32.4" y="1633.18" width="454.9" height="1" fill="rgba(180,180,180,0.28)"/>
<rect x="30.6" y="1633.23" width="1.6" height="0.9" fill="#666"/>
<text x="28.7" y="1635.68" class="yt">20</text>
<rect x="32.4" y="1602.47" width="454.9" height="1" fill="rgba(180,180,180,0.28)"/>
<rect x="30.6" y="1602.52" width="1.6" height="0.9" fill="#666"/>
<text x="28.7" y="1604.97" class="yt">30</text>
<rect x="32.4" y="1571.76" width="454.9" height="1" fill="rgba(180,180,180,0.28)"/>
<rect x="30.6" y="1571.81" width="1.6" height="0.9" fill="#666"/>
<text x="28.7" y="1574.26" class="yt">40</text>
<rect x="32.4" y="1541.05" width="454.9" height="1" fill="rgba(180,180,180,0.28)"/>
<rect x="30.6" y="1541.1" width="1.6" height="0.9" fill="#666"/>
<text x="28.7" y="1543.55" class="yt">50</text>
<rect x="32.4" y="1510.34" width="454.9" height="1" fill="rgba(180,180,180,0.28)"/>
<rect x="30.6" y="1510.39" width="1.6" height="0.9" fill="#666"/>
<text x="28.7" y="1512.84" class="yt">60</text>
<rect x="32.4" y="1479.63" width="454.9" height="1" fill="rgba(180,180,180,0.28)"/>
<rect x="30.6" y="1479.68" width="1.6" height="0.9" fill="#666"/>
<text x="28.7" y="1482.13" class="yt">70</text>
<rect x="32.4" y="1448.92" width="454.9" height="1" fill="rgba(180,180,180,0.28)"/>
<rect x="30.6" y="1448.97" width="1.6" height="0.9" fill="#666"/>
<text x="28.7" y="1451.42" class="yt">80</text>
<rect x="84.35" y="1695.3" width="0.9" height="1.8" fill="#555"/>
<text x="84.4" y="1702.4" class="xt">20</text>
<rect x="169.95" y="1695.3" width="0.9" height="1.8" fill="#555"/>
<text x="170" y="1702.4" class="xt">40</text>
<rect x="255.55" y="1695.3" width="0.9" height="1.8" fill="#555"/>
<text x="255.6" y="1702.4" class="xt">60</text>
<rect x="341.15" y="1695.3" width="0.9" height="1.8" fill="#555"/>
<text x="341.2" y="1702.4" class="xt">80</text>
<rect x="426.75" y="1695.3" width="0.9" height="1.8" fill="#555"/>
<text x="426.8" y="1702.4" class="xt">100</text>
<text x="259.9" y="1709.4" class="xl">Hidden Neuron Count</text>
<text transform="translate(20.6 1564.6) rotate(-90)" class="yl">MCC</text>
<rect x="131.7" y="1727.1" width="5.9" height="5.6" fill="#FF8C44"/>
<text x="146" y="1731.7" class="lg">GAO-RR-SResRNN</text>
<rect x="131.7" y="1736.1" width="5.9" height="5.6" fill="#29C7C3"/>
<text x="146" y="1740.7" class="lg">GSO-RR-SResRNN</text>
<rect x="217.7" y="1727.1" width="5.9" height="5.6" fill="#2D6EF5"/>
<text x="231.7" y="1731.7" class="lg">RSA-RR-SResRNN</text>
<rect x="217.7" y="1736.1" width="5.9" height="5.6" fill="#5C4035"/>
<text x="231.7" y="1740.7" class="lg">SBOA-RR-SResRNN</text>
<rect x="306.2" y="1727.1" width="5.9" height="5.6" fill="#FFB812"/>
<text x="321" y="1731.7" class="lg">IRA-SBOA-RR-SResRNN</text>
<rect x="555.1" y="1540.2" width="12.89" height="154.9" fill="#FF8C44"/>
<rect x="569.79" y="1536.4" width="12.89" height="158.7" fill="#29C7C3"/>
<rect x="584.49" y="1534.1" width="12.89" height="161" fill="#2D6EF5"/>
<rect x="599.18" y="1529" width="12.89" height="166.1" fill="#5C4035"/>
<rect x="613.87" y="1524.3" width="12.89" height="170.8" fill="#FFB812"/>
<rect x="640.5" y="1519.1" width="12.89" height="176" fill="#FF8C44"/>
<rect x="655.19" y="1515.3" width="12.89" height="179.8" fill="#29C7C3"/>
<rect x="669.89" y="1508.3" width="12.89" height="186.8" fill="#2D6EF5"/>
<rect x="684.58" y="1504.1" width="12.89" height="191" fill="#5C4035"/>
<rect x="699.27" y="1497.1" width="12.89" height="198" fill="#FFB812"/>
<rect x="725.9" y="1582.9" width="12.89" height="112.2" fill="#FF8C44"/>
<rect x="740.59" y="1568.6" width="12.89" height="126.5" fill="#29C7C3"/>
<rect x="755.29" y="1555.4" width="12.89" height="139.7" fill="#2D6EF5"/>
<rect x="769.98" y="1538.6" width="12.89" height="156.5" fill="#5C4035"/>
<rect x="784.67" y="1519.1" width="12.89" height="176" fill="#FFB812"/>
<rect x="811.3" y="1566.5" width="12.89" height="128.6" fill="#FF8C44"/>
<rect x="825.99" y="1552.6" width="12.89" height="142.5" fill="#29C7C3"/>
<rect x="840.69" y="1538.6" width="12.89" height="156.5" fill="#2D6EF5"/>
<rect x="855.38" y="1521.2" width="12.89" height="173.9" fill="#5C4035"/>
<rect x="870.07" y="1505.1" width="12.89" height="190" fill="#FFB812"/>
<rect x="896.7" y="1491.9" width="12.89" height="203.2" fill="#FF8C44"/>
<rect x="911.39" y="1482.1" width="12.89" height="213" fill="#29C7C3"/>
<rect x="926.09" y="1469.2" width="12.89" height="225.9" fill="#2D6EF5"/>
<rect x="940.78" y="1458" width="12.89" height="237.1" fill="#5C4035"/>
<rect x="955.47" y="1444.4" width="12.89" height="250.7" fill="#FFB812"/>
<rect x="533.6" y="1694.65" width="1.6" height="0.9" fill="#666"/>
<text x="531.7" y="1697.1" class="yt">0</text>
<rect x="535.4" y="1663.89" width="453.9" height="1" fill="rgba(180,180,180,0.28)"/>
<rect x="533.6" y="1663.94" width="1.6" height="0.9" fill="#666"/>
<text x="531.7" y="1666.39" class="yt">10</text>
<rect x="535.4" y="1633.18" width="453.9" height="1" fill="rgba(180,180,180,0.28)"/>
<rect x="533.6" y="1633.23" width="1.6" height="0.9" fill="#666"/>
<text x="531.7" y="1635.68" class="yt">20</text>
<rect x="535.4" y="1602.47" width="453.9" height="1" fill="rgba(180,180,180,0.28)"/>
<rect x="533.6" y="1602.52" width="1.6" height="0.9" fill="#666"/>
<text x="531.7" y="1604.97" class="yt">30</text>
<rect x="535.4" y="1571.76" width="453.9" height="1" fill="rgba(180,180,180,0.28)"/>
<rect x="533.6" y="1571.81" width="1.6" height="0.9" fill="#666"/>
<text x="531.7" y="1574.26" class="yt">40</text>
<rect x="535.4" y="1541.05" width="453.9" height="1" fill="rgba(180,180,180,0.28)"/>
<rect x="533.6" y="1541.1" width="1.6" height="0.9" fill="#666"/>
<text x="531.7" y="1543.55" class="yt">50</text>
<rect x="535.4" y="1510.34" width="453.9" height="1" fill="rgba(180,180,180,0.28)"/>
<rect x="533.6" y="1510.39" width="1.6" height="0.9" fill="#666"/>
<text x="531.7" y="1512.84" class="yt">60</text>
<rect x="535.4" y="1479.63" width="453.9" height="1" fill="rgba(180,180,180,0.28)"/>
<rect x="533.6" y="1479.68" width="1.6" height="0.9" fill="#666"/>
<text x="531.7" y="1482.13" class="yt">70</text>
<rect x="535.4" y="1448.92" width="453.9" height="1" fill="rgba(180,180,180,0.28)"/>
<rect x="533.6" y="1448.97" width="1.6" height="0.9" fill="#666"/>
<text x="531.7" y="1451.42" class="yt">80</text>
<rect x="586.75" y="1695.3" width="0.9" height="1.8" fill="#555"/>
<text x="586.8" y="1702.4" class="xt">20</text>
<rect x="672.15" y="1695.3" width="0.9" height="1.8" fill="#555"/>
<text x="672.2" y="1702.4" class="xt">40</text>
<rect x="757.55" y="1695.3" width="0.9" height="1.8" fill="#555"/>
<text x="757.6" y="1702.4" class="xt">60</text>
<rect x="842.95" y="1695.3" width="0.9" height="1.8" fill="#555"/>
<text x="843" y="1702.4" class="xt">80</text>
<rect x="928.35" y="1695.3" width="0.9" height="1.8" fill="#555"/>
<text x="928.4" y="1702.4" class="xt">100</text>
<text x="761" y="1709.4" class="xl">Hidden Neuron Count</text>
<text transform="translate(522.6 1564.6) rotate(-90)" class="yl">MCC</text>
<rect x="661.8" y="1727.1" width="5.9" height="5.6" fill="#FF8C44"/>
<text x="676.1" y="1731.7" class="lg">CNN</text>
<rect x="661.8" y="1736.1" width="5.9" height="5.6" fill="#29C7C3"/>
<text x="676.1" y="1740.7" class="lg">LSTM</text>
<rect x="708.5" y="1727.1" width="5.9" height="5.6" fill="#2D6EF5"/>
<text x="723.6" y="1731.7" class="lg">GRU</text>
<rect x="708.5" y="1736.1" width="5.9" height="5.6" fill="#5C4035"/>
<text x="723.6" y="1740.7" class="lg">RR-SResRNN</text>
<rect x="778.5" y="1727.1" width="5.9" height="5.6" fill="#FFB812"/>
<text x="792.2" y="1731.7" class="lg">IRA-SBOA-RR-SResRNN</text>
<rect x="55.4" y="1804.1" width="12.86" height="240.8" fill="#FF8C44"/>
<rect x="70.06" y="1801.7" width="12.86" height="243.2" fill="#29C7C3"/>
<rect x="84.72" y="1800.1" width="12.86" height="244.8" fill="#2D6EF5"/>
<rect x="99.38" y="1798.8" width="12.86" height="246.1" fill="#5C4035"/>
<rect x="114.03" y="1797.1" width="12.86" height="247.8" fill="#FFB812"/>
<rect x="140.6" y="1806.5" width="12.86" height="238.4" fill="#FF8C44"/>
<rect x="155.26" y="1803.6" width="12.86" height="241.3" fill="#29C7C3"/>
<rect x="169.92" y="1801.7" width="12.86" height="243.2" fill="#2D6EF5"/>
<rect x="184.58" y="1799.7" width="12.86" height="245.2" fill="#5C4035"/>
<rect x="199.23" y="1797.3" width="12.86" height="247.6" fill="#FFB812"/>
<rect x="225.8" y="1801.8" width="12.86" height="243.1" fill="#FF8C44"/>
<rect x="240.46" y="1800.3" width="12.86" height="244.6" fill="#29C7C3"/>
<rect x="255.12" y="1799" width="12.86" height="245.9" fill="#2D6EF5"/>
<rect x="269.78" y="1797.7" width="12.86" height="247.2" fill="#5C4035"/>
<rect x="284.43" y="1796.1" width="12.86" height="248.8" fill="#FFB812"/>
<rect x="311" y="1800.3" width="12.86" height="244.6" fill="#FF8C44"/>
<rect x="325.66" y="1799.3" width="12.86" height="245.6" fill="#29C7C3"/>
<rect x="340.32" y="1798" width="12.86" height="246.9" fill="#2D6EF5"/>
<rect x="354.98" y="1796.9" width="12.86" height="248" fill="#5C4035"/>
<rect x="369.63" y="1795.9" width="12.86" height="249" fill="#FFB812"/>
<rect x="396.2" y="1796.4" width="12.86" height="248.5" fill="#FF8C44"/>
<rect x="410.86" y="1795.9" width="12.86" height="249" fill="#29C7C3"/>
<rect x="425.52" y="1795.4" width="12.86" height="249.5" fill="#2D6EF5"/>
<rect x="440.18" y="1794.8" width="12.86" height="250.1" fill="#5C4035"/>
<rect x="454.83" y="1794.3" width="12.86" height="250.6" fill="#FFB812"/>
<rect x="33.6" y="2044.45" width="1.6" height="0.9" fill="#666"/>
<text x="31.7" y="2046.9" class="yt">0</text>
<rect x="35.4" y="1993.96" width="451.8" height="1" fill="rgba(180,180,180,0.28)"/>
<rect x="33.6" y="1994.01" width="1.6" height="0.9" fill="#666"/>
<text x="31.7" y="1996.46" class="yt">20</text>
<rect x="35.4" y="1943.52" width="451.8" height="1" fill="rgba(180,180,180,0.28)"/>
<rect x="33.6" y="1943.57" width="1.6" height="0.9" fill="#666"/>
<text x="31.7" y="1946.02" class="yt">40</text>
<rect x="35.4" y="1893.08" width="451.8" height="1" fill="rgba(180,180,180,0.28)"/>
<rect x="33.6" y="1893.13" width="1.6" height="0.9" fill="#666"/>
<text x="31.7" y="1895.58" class="yt">60</text>
<rect x="35.4" y="1842.64" width="451.8" height="1" fill="rgba(180,180,180,0.28)"/>
<rect x="33.6" y="1842.69" width="1.6" height="0.9" fill="#666"/>
<text x="31.7" y="1845.14" class="yt">80</text>
<rect x="35.4" y="1792.2" width="451.8" height="1" fill="rgba(180,180,180,0.28)"/>
<rect x="33.6" y="1792.25" width="1.6" height="0.9" fill="#666"/>
<text x="31.7" y="1794.7" class="yt">100</text>
<rect x="87.05" y="2045.1" width="0.9" height="1.8" fill="#555"/>
<text x="87.1" y="2052.2" class="xt">20</text>
<rect x="172.25" y="2045.1" width="0.9" height="1.8" fill="#555"/>
<text x="172.3" y="2052.2" class="xt">40</text>
<rect x="257.45" y="2045.1" width="0.9" height="1.8" fill="#555"/>
<text x="257.5" y="2052.2" class="xt">60</text>
<rect x="342.65" y="2045.1" width="0.9" height="1.8" fill="#555"/>
<text x="342.7" y="2052.2" class="xt">80</text>
<rect x="427.85" y="2045.1" width="0.9" height="1.8" fill="#555"/>
<text x="427.9" y="2052.2" class="xt">100</text>
<text x="261.4" y="2059.2" class="xl">Hidden Neuron Count</text>
<text transform="translate(20.6 1914.4) rotate(-90)" class="yl">Precision</text>
<rect x="133.2" y="2076.9" width="5.9" height="5.6" fill="#FF8C44"/>
<text x="147.3" y="2081.5" class="lg">GAO-RR-SResRNN</text>
<rect x="133.2" y="2085.9" width="5.9" height="5.6" fill="#29C7C3"/>
<text x="147.3" y="2090.5" class="lg">GSO-RR-SResRNN</text>
<rect x="219.1" y="2076.9" width="5.9" height="5.6" fill="#2D6EF5"/>
<text x="233.4" y="2081.5" class="lg">RSA-RR-SResRNN</text>
<rect x="219.1" y="2085.9" width="5.9" height="5.6" fill="#5C4035"/>
<text x="233.4" y="2090.5" class="lg">SBOA-RR-SResRNN</text>
<rect x="308" y="2076.9" width="5.9" height="5.6" fill="#FFB812"/>
<text x="321.9" y="2081.5" class="lg">IRA-SBOA-RR-SResRNN</text>
<rect x="558" y="1799.3" width="12.81" height="245.6" fill="#FF8C44"/>
<rect x="572.61" y="1799" width="12.81" height="245.9" fill="#29C7C3"/>
<rect x="587.21" y="1798.8" width="12.81" height="246.1" fill="#2D6EF5"/>
<rect x="601.82" y="1798.8" width="12.81" height="246.1" fill="#5C4035"/>
<rect x="616.43" y="1798.2" width="12.81" height="246.7" fill="#FFB812"/>
<rect x="642.9" y="1797.9" width="12.81" height="247" fill="#FF8C44"/>
<rect x="657.51" y="1797.7" width="12.81" height="247.2" fill="#29C7C3"/>
<rect x="672.11" y="1797.3" width="12.81" height="247.6" fill="#2D6EF5"/>
<rect x="686.72" y="1797.1" width="12.81" height="247.8" fill="#5C4035"/>
<rect x="701.33" y="1796.2" width="12.81" height="248.7" fill="#FFB812"/>
<rect x="727.8" y="1803.1" width="12.81" height="241.8" fill="#FF8C44"/>
<rect x="742.41" y="1801.8" width="12.81" height="243.1" fill="#29C7C3"/>
<rect x="757.01" y="1800.3" width="12.81" height="244.6" fill="#2D6EF5"/>
<rect x="771.62" y="1799.3" width="12.81" height="245.6" fill="#5C4035"/>
<rect x="786.23" y="1798" width="12.81" height="246.9" fill="#FFB812"/>
<rect x="812.7" y="1801.3" width="12.81" height="243.6" fill="#FF8C44"/>
<rect x="827.31" y="1800" width="12.81" height="244.9" fill="#29C7C3"/>
<rect x="841.91" y="1799.3" width="12.81" height="245.6" fill="#2D6EF5"/>
<rect x="856.52" y="1798" width="12.81" height="246.9" fill="#5C4035"/>
<rect x="871.13" y="1796.9" width="12.81" height="248" fill="#FFB812"/>
<rect x="897.6" y="1796.4" width="12.81" height="248.5" fill="#FF8C44"/>
<rect x="912.21" y="1795.9" width="12.81" height="249" fill="#29C7C3"/>
<rect x="926.81" y="1795.4" width="12.81" height="249.5" fill="#2D6EF5"/>
<rect x="941.42" y="1794.8" width="12.81" height="250.1" fill="#5C4035"/>
<rect x="956.03" y="1794.3" width="12.81" height="250.6" fill="#FFB812"/>
<rect x="536.1" y="2044.45" width="1.6" height="0.9" fill="#666"/>
<text x="534.2" y="2046.9" class="yt">0</text>
<rect x="537.9" y="1993.96" width="451.3" height="1" fill="rgba(180,180,180,0.28)"/>
<rect x="536.1" y="1994.01" width="1.6" height="0.9" fill="#666"/>
<text x="534.2" y="1996.46" class="yt">20</text>
<rect x="537.9" y="1943.52" width="451.3" height="1" fill="rgba(180,180,180,0.28)"/>
<rect x="536.1" y="1943.57" width="1.6" height="0.9" fill="#666"/>
<text x="534.2" y="1946.02" class="yt">40</text>
<rect x="537.9" y="1893.08" width="451.3" height="1" fill="rgba(180,180,180,0.28)"/>
<rect x="536.1" y="1893.13" width="1.6" height="0.9" fill="#666"/>
<text x="534.2" y="1895.58" class="yt">60</text>
<rect x="537.9" y="1842.64" width="451.3" height="1" fill="rgba(180,180,180,0.28)"/>
<rect x="536.1" y="1842.69" width="1.6" height="0.9" fill="#666"/>
<text x="534.2" y="1845.14" class="yt">80</text>
<rect x="537.9" y="1792.2" width="451.3" height="1" fill="rgba(180,180,180,0.28)"/>
<rect x="536.1" y="1792.25" width="1.6" height="0.9" fill="#666"/>
<text x="534.2" y="1794.7" class="yt">100</text>
<rect x="589.65" y="2045.1" width="0.9" height="1.8" fill="#555"/>
<text x="589.7" y="2052.2" class="xt">20</text>
<rect x="674.55" y="2045.1" width="0.9" height="1.8" fill="#555"/>
<text x="674.6" y="2052.2" class="xt">40</text>
<rect x="759.45" y="2045.1" width="0.9" height="1.8" fill="#555"/>
<text x="759.5" y="2052.2" class="xt">60</text>
<rect x="844.35" y="2045.1" width="0.9" height="1.8" fill="#555"/>
<text x="844.4" y="2052.2" class="xt">80</text>
<rect x="929.25" y="2045.1" width="0.9" height="1.8" fill="#555"/>
<text x="929.3" y="2052.2" class="xt">100</text>
<text x="762.2" y="2059.2" class="xl">Hidden Neuron Count</text>
<text transform="translate(522.6 1914.4) rotate(-90)" class="yl">Precision</text>
<rect x="663.3" y="2076.9" width="5.9" height="5.6" fill="#FF8C44"/>
<text x="677.6" y="2081.5" class="lg">CNN</text>
<rect x="663.3" y="2085.9" width="5.9" height="5.6" fill="#29C7C3"/>
<text x="677.6" y="2090.5" class="lg">LSTM</text>
<rect x="710" y="2076.9" width="5.9" height="5.6" fill="#2D6EF5"/>
<text x="723.8" y="2081.5" class="lg">GRU</text>
<rect x="710" y="2085.9" width="5.9" height="5.6" fill="#5C4035"/>
<text x="723.8" y="2090.5" class="lg">RR-SResRNN</text>
<rect x="780" y="2076.9" width="5.9" height="5.6" fill="#FFB812"/>
<text x="793.7" y="2081.5" class="lg">IRA-SBOA-RR-SResRNN</text>
<text x="501.8" y="373" class="cap">(a)</text>
<text x="501.8" y="722" class="cap">(b)</text>
<text x="501.8" y="1072" class="cap">(c)</text>
<text x="501.8" y="1421" class="cap">(d)</text>
<text x="501.8" y="1770" class="cap">(e)</text>
<text x="501.8" y="2120" class="cap">(f)</text>
<text x="501.0" y="23.5" class="ttl">Dataset-1</text>
<rect x="0" y="0" width="1003" height="1.2" fill="#000"/>
<rect x="0" y="2124.8" width="1003" height="1.2" fill="#000"/>
<rect x="0" y="0" width="1.3" height="2126" fill="#000"/>
<rect x="1001.7" y="0" width="1.3" height="2126" fill="#000"/>
<rect x="0" y="28" width="1003" height="2" fill="#000"/>
<rect x="0" y="349" width="1003" height="2" fill="#000"/>
<rect x="0" y="378" width="1003" height="2" fill="#000"/>
<rect x="0" y="698" width="1003" height="2" fill="#000"/>
<rect x="0" y="727" width="1003" height="2" fill="#000"/>
<rect x="0" y="1048" width="1003" height="2" fill="#000"/>
<rect x="0" y="1076.8" width="1003" height="1.7" fill="#000"/>
<rect x="0" y="1397" width="1003" height="2" fill="#000"/>
<rect x="0" y="1426" width="1003" height="2" fill="#000"/>
<rect x="0" y="1746" width="1003" height="2" fill="#000"/>
<rect x="0" y="1775" width="1003" height="2" fill="#000"/>
<rect x="0" y="2096" width="1003" height="2" fill="#000"/>
<rect x="501" y="28" width="2" height="323" fill="#000"/>
<rect x="501" y="378" width="2" height="322" fill="#000"/>
<rect x="501" y="727" width="2" height="323" fill="#000"/>
<rect x="501" y="1077" width="2" height="322" fill="#000"/>
<rect x="501" y="1426" width="2" height="322" fill="#000"/>
<rect x="501" y="1775" width="2" height="323" fill="#000"/>
</g></svg></body></html>
